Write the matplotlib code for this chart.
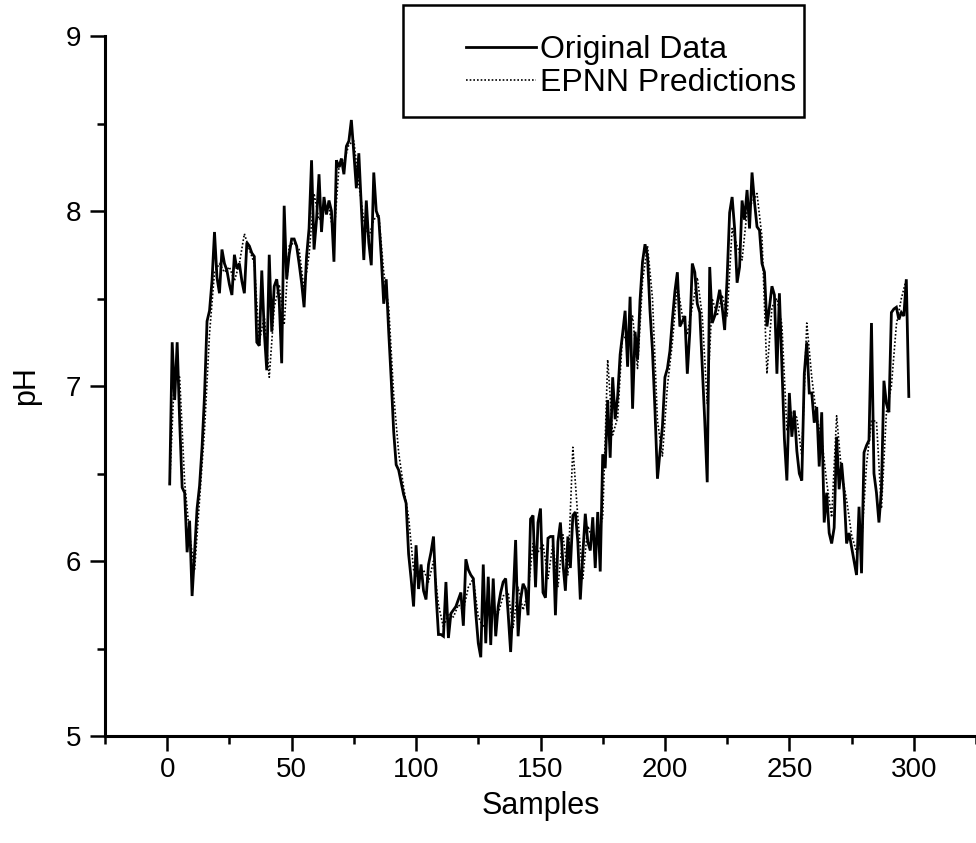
import numpy as np
import matplotlib
matplotlib.use("Agg")
import matplotlib.pyplot as plt
from matplotlib.patches import Rectangle

plt.rcParams['font.family'] = ['Liberation Sans', 'DejaVu Sans']

# measured pH, one value per sample (samples 1..298)
ph_orig = [
    6.44, 7.25, 6.92, 7.25, 6.80, 6.42, 6.39, 6.05, 6.23, 5.80,
    6.05, 6.30, 6.43, 6.65, 6.95, 7.37, 7.43, 7.60, 7.88, 7.62,
    7.53, 7.78, 7.70, 7.66, 7.58, 7.52, 7.75, 7.67, 7.70, 7.60,
    7.53, 7.82, 7.80, 7.76, 7.74, 7.25, 7.23, 7.66, 7.31, 7.09,
    7.75, 7.31, 7.57, 7.61, 7.49, 7.13, 8.03, 7.61, 7.75, 7.84,
    7.84, 7.80, 7.70, 7.59, 7.45, 7.74, 7.90, 8.29, 7.78, 7.95,
    8.21, 7.88, 8.08, 7.98, 8.06, 8.00, 7.71, 8.29, 8.25, 8.30,
    8.21, 8.37, 8.40, 8.52, 8.33, 8.13, 8.33, 8.02, 7.72, 8.06,
    7.82, 7.69, 8.22, 8.00, 7.96, 7.74, 7.47, 7.61, 7.31, 7.04,
    6.74, 6.55, 6.52, 6.45, 6.38, 6.33, 6.04, 5.90, 5.74, 6.09,
    5.84, 5.98, 5.83, 5.78, 5.98, 6.05, 6.14, 5.82, 5.58, 5.58,
    5.57, 5.88, 5.56, 5.70, 5.72, 5.74, 5.78, 5.82, 5.63, 6.01,
    5.95, 5.92, 5.90, 5.70, 5.53, 5.45, 5.98, 5.53, 5.91, 5.52,
    5.90, 5.57, 5.74, 5.82, 5.88, 5.90, 5.70, 5.48, 5.78, 6.12,
    5.57, 5.78, 5.87, 5.84, 5.69, 6.24, 6.26, 5.85, 6.22, 6.30,
    5.82, 5.79, 6.13, 6.14, 6.14, 5.69, 6.11, 6.22, 5.99, 5.83,
    6.14, 5.96, 6.26, 6.28, 6.11, 5.78, 6.04, 6.27, 6.11, 6.06,
    6.25, 5.96, 6.28, 5.94, 6.61, 6.53, 6.92, 6.59, 7.05, 6.81,
    6.94, 7.18, 7.30, 7.43, 7.11, 7.51, 6.87, 7.31, 7.15, 7.49,
    7.71, 7.81, 7.74, 7.43, 7.20, 6.86, 6.47, 6.62, 6.77, 7.05,
    7.10, 7.20, 7.38, 7.54, 7.65, 7.34, 7.37, 7.40, 7.07, 7.31,
    7.70, 7.65, 7.47, 7.42, 7.11, 6.80, 6.45, 7.68, 7.36, 7.40,
    7.47, 7.55, 7.45, 7.32, 7.62, 7.99, 8.08, 7.90, 7.59, 7.68,
    8.06, 7.95, 8.12, 7.90, 8.22, 8.05, 7.91, 7.89, 7.70, 7.65,
    7.34, 7.45, 7.57, 7.52, 7.07, 7.53, 7.11, 6.70, 6.46, 6.96,
    6.71, 6.86, 6.63, 6.50, 6.46, 7.07, 7.25, 6.96, 6.96, 6.79,
    6.88, 6.54, 6.85, 6.22, 6.39, 6.16, 6.10, 6.19, 6.71, 6.41,
    6.56, 6.39, 6.10, 6.16, 6.08, 6.00, 5.92, 6.31, 5.93, 6.62,
    6.66, 6.69, 7.36, 6.50, 6.39, 6.22, 6.41, 7.03, 6.90, 6.85,
    7.42, 7.44, 7.45, 7.38, 7.42, 7.40, 7.61, 6.94,
]
samples_orig = np.arange(1, len(ph_orig) + 1)

# network output, every second sample (1, 3, 5, ... 297)
ph_pred = [
    6.44, 7.10, 7.05, 6.45, 6.15, 5.95, 6.35, 6.75, 7.30, 7.65,
    7.70, 7.65, 7.68, 7.60, 7.70, 7.87, 7.78, 7.70, 7.25, 7.40,
    7.05, 7.45, 7.58, 7.35, 7.80, 7.82, 7.78, 7.55, 7.75, 8.10,
    7.95, 8.00, 8.02, 7.85, 8.25, 8.28, 8.38, 8.40, 8.15, 7.95,
    7.85, 7.95, 7.98, 7.65, 7.45, 6.95, 6.62, 6.42, 6.25, 5.95,
    5.90, 5.95, 5.88, 6.00, 5.75, 5.62, 5.70, 5.68, 5.75, 5.72,
    5.85, 5.90, 5.68, 5.62, 5.70, 5.72, 5.70, 5.80, 5.82, 5.62,
    5.85, 5.72, 5.82, 6.10, 6.05, 6.10, 5.90, 6.10, 5.85, 6.15,
    5.92, 6.65, 6.25, 5.90, 6.20, 6.12, 6.15, 6.25, 7.15, 6.72,
    6.82, 7.30, 7.25, 7.40, 7.10, 7.60, 7.80, 7.50, 6.80, 6.60,
    7.00, 7.25, 7.58, 7.40, 7.30, 7.45, 7.62, 7.40, 6.90, 7.50,
    7.40, 7.52, 7.40, 7.90, 7.80, 7.72, 8.00, 8.05, 8.10, 7.85,
    7.07, 7.45, 7.50, 7.35, 6.75, 6.85, 6.82, 6.60, 7.36, 7.05,
    6.82, 6.70, 6.45, 6.25, 6.83, 6.50, 6.35, 6.15, 6.05, 6.10,
    6.55, 6.80, 6.80, 6.30, 6.85, 7.00, 7.35, 7.50, 7.61,
]
samples_pred = np.arange(1, 2 * len(ph_pred), 2)

fig = plt.figure(figsize=(9.76, 8.43), dpi=100)
ax = fig.add_axes([105 / 976, 107 / 843, 871 / 976, 700 / 843])

line_orig, = ax.plot(samples_orig, ph_orig, color='black', linewidth=2.0,
                     solid_joinstyle='miter')
line_pred, = ax.plot(samples_pred, ph_pred, color='black', linewidth=1.2,
                     linestyle=(0, (1, 1.2)))

ax.set_xlim(-25, 325)
ax.set_ylim(5, 9)
ax.set_xticks([0, 50, 100, 150, 200, 250, 300])
ax.set_xticks(np.arange(-25, 326, 50), minor=True)
ax.set_yticks([5, 6, 7, 8, 9])
ax.set_yticks([5.5, 6.5, 7.5, 8.5], minor=True)

for side in ('top', 'right'):
    ax.spines[side].set_visible(False)
for side in ('left', 'bottom'):
    ax.spines[side].set_linewidth(2.2)

ax.tick_params(which='major', direction='out', length=11, width=1.8,
               labelsize=20, pad=6)
ax.tick_params(axis='x', which='major', pad=4)
ax.tick_params(which='minor', direction='out', length=6, width=1.8)

ax.set_xlabel('Samples', fontsize=22, labelpad=6)
ax.set_ylabel('pH', fontsize=22, labelpad=18)

# legend box with a plain square frame
fig.patches.append(Rectangle((403 / 976, 1 - 117 / 843), 401 / 976, 112 / 843,
                             transform=fig.transFigure, fill=False,
                             edgecolor='black', linewidth=1.8))
fig.legend([line_orig, line_pred], ['Original Data', 'EPNN Predictions'],
           loc='upper left', bbox_to_anchor=(450 / 976, 1 - 19 / 843),
           bbox_transform=fig.transFigure, frameon=False, fontsize=23,
           handlelength=2.2, handletextpad=0.12, borderpad=0,
           labelspacing=0.1)

fig.savefig('out.png', dpi=100)
